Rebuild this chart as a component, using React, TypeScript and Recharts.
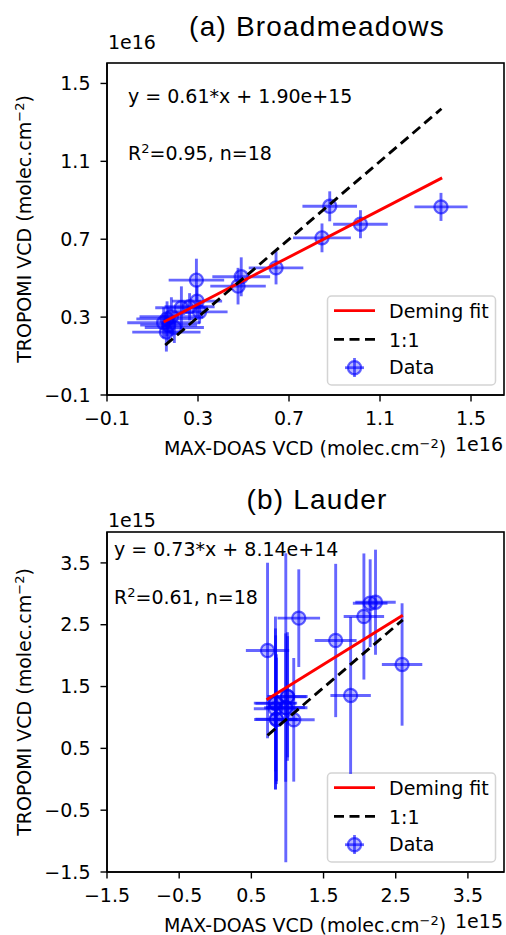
import React from 'react';
import { ComposedChart, Scatter, XAxis, YAxis, ErrorBar, Customized } from 'recharts';

// ---------- (a) Broadmeadows, values in units of 1e16 ----------
const aMaxDoas = [1.368, 0.879, 1.014, 0.845, 0.643, 0.490, 0.476, 0.293, 0.296, 0.307, 0.263, 0.227, 0.183, 0.164, 0.149, 0.171, 0.196, 0.161];
const aTropomi = [0.866, 0.869, 0.777, 0.707, 0.553, 0.507, 0.459, 0.490, 0.382, 0.327, 0.353, 0.348, 0.302, 0.291, 0.271, 0.259, 0.247, 0.223];
const aMaxDoasErr = [0.117, 0.120, 0.120, 0.127, 0.120, 0.127, 0.122, 0.122, 0.110, 0.123, 0.110, 0.115, 0.140, 0.135, 0.160, 0.125, 0.130, 0.150];
const aTropomiErr = [0.072, 0.077, 0.072, 0.074, 0.085, 0.100, 0.094, 0.110, 0.080, 0.060, 0.070, 0.110, 0.100, 0.090, 0.080, 0.090, 0.080, 0.100];
const aFitX = [0.149, 1.373];
const aFitY = [0.275, 1.015];
const aOneX = [0.156, 1.370];
const aOneY = [0.156, 1.370];
const aTicks = [-0.1, 0.3, 0.7, 1.1, 1.5];
const aXDomain = [-0.1, 1.645];
const aYDomain = [-0.1, 1.605];

// ---------- (b) Lauder, values in units of 1e15 ----------
const bMaxDoas = [0.724, 1.157, 1.668, 2.059, 2.146, 2.220, 2.588, 1.875, 1.000, 0.834, 0.977, 0.834, 0.848, 1.087, 0.836, 0.975, 0.846, 1.002];
const bTropomi = [2.083, 2.606, 2.245, 2.633, 2.848, 2.864, 1.857, 1.356, 1.339, 1.232, 1.156, 1.140, 0.968, 0.962, 1.228, 1.160, 0.972, 1.335];
const bMaxDoasErr = [0.30, 0.295, 0.29, 0.28, 0.24, 0.28, 0.28, 0.28, 0.28, 0.30, 0.30, 0.30, 0.31, 0.29, 0.28, 0.27, 0.29, 0.26];
const bTropomiErr = [1.42, 0.79, 1.24, 1.02, 0.71, 0.85, 0.99, 1.27, 1.04, 1.40, 2.50, 1.30, 1.00, 1.00, 1.10, 1.20, 1.05, 0.98];
const bFitX = [0.710, 2.598];
const bFitY = [1.285, 2.655];
const bOneX = [0.724, 2.598];
const bOneY = [0.709, 2.579];
const bTicks = [-1.5, -0.5, 0.5, 1.5, 2.5, 3.5];
const bXDomain = [-1.5, 4.0];
const bYDomain = [-1.5, 4.0];

const FONT = 'DejaVu Sans, sans-serif';
const FS = 19;
const SUP = 13;
const BLUE_LINE = 'rgba(0,0,255,0.6)';
const BLUE_FILL = 'rgba(0,0,255,0.28)';

const fmt = (v: number) => (v < 0 ? '\u2212' + Math.abs(v).toFixed(1) : v.toFixed(1));

const Marker = (props: any) => {
  const { cx, cy } = props;
  if (cx == null || cy == null) return <g />;
  return <circle cx={cx} cy={cy} r={6.6} fill={BLUE_FILL} stroke={BLUE_LINE} strokeWidth={2.2} />;
};
const NoShape = () => <g />;

type PanelProps = {
  height: number;
  top: number;
  plotTop: number;
  plotBottom: number;
  points: any[];
  fit: any[];
  one: any[];
  ticks: number[];
  xDomain: number[];
  yDomain: number[];
  title: string;
  titleY: number;
  expo: string;
  expoY: number;
  eqn: string;
  eqnX: number;
  eqnY: number;
  r2: string;
  r2Y: number;
};

const PLOT_L = 107;
const PLOT_R = 504;

const Overlay = (p: PanelProps) => {
  const midY = (p.plotTop + p.plotBottom) / 2;
  const bt = p.plotBottom - 99;
  const bx = 327.5;
  return (
    <g fontFamily={FONT} fill="#000">
      <rect x={PLOT_L} y={p.plotTop} width={PLOT_R - PLOT_L} height={p.plotBottom - p.plotTop} fill="none" stroke="#000" strokeWidth={1.6} />
      <text x={317} y={p.titleY} textAnchor="middle" fontFamily="Liberation Sans, Arial, sans-serif" fontSize={28} letterSpacing={1.2}>{p.title}</text>
      <text x={108} y={p.expoY} fontSize={FS}>{p.expo}</text>
      <text x={p.eqnX} y={p.eqnY} fontSize={FS}>{p.eqn}</text>
      <text x={p.eqnX} y={p.r2Y} fontSize={FS}>R<tspan dy={-7} fontSize={SUP}>2</tspan><tspan dy={7} fontSize={FS}>{p.r2}</tspan></text>
      <text x={305} y={p.plotBottom + 60} textAnchor="middle" fontSize={FS}>MAX-DOAS VCD (molec.cm<tspan dy={-7} fontSize={SUP}>{'\u2212'}2</tspan><tspan dy={7} fontSize={FS}>)</tspan></text>
      <text x={503} y={p.plotBottom + 56} textAnchor="end" fontSize={FS}>{p.expo}</text>
      <text x={31} y={midY} textAnchor="middle" fontSize={FS} transform={`rotate(-90 31 ${midY})`}>TROPOMI VCD (molec.cm<tspan dy={-7} fontSize={SUP}>{'\u2212'}2</tspan><tspan dy={7} fontSize={FS}>)</tspan></text>
      {/* legend */}
      <rect x={bx} y={bt} width={168} height={89} rx={4} fill="rgba(255,255,255,0.85)" stroke="#d4d4d4" strokeWidth={1.5} />
      <line x1={334} x2={375} y1={bt + 14.7} y2={bt + 14.7} stroke="red" strokeWidth={2.8} />
      <text x={389} y={bt + 22} fontSize={FS}>Deming fit</text>
      <line x1={334} x2={375} y1={bt + 43.3} y2={bt + 43.3} stroke="#000" strokeWidth={2.8} strokeDasharray="10 5.5" />
      <text x={389} y={bt + 50.7} fontSize={FS}>1:1</text>
      <line x1={345} x2={364} y1={bt + 71.7} y2={bt + 71.7} stroke={BLUE_LINE} strokeWidth={2.8} />
      <line x1={354.5} x2={354.5} y1={bt + 62} y2={bt + 81} stroke={BLUE_LINE} strokeWidth={2.8} />
      <circle cx={354.5} cy={bt + 71.7} r={6.6} fill={BLUE_FILL} stroke={BLUE_LINE} strokeWidth={2.2} />
      <text x={389} y={bt + 78} fontSize={FS}>Data</text>
    </g>
  );
};

const Panel = (p: PanelProps) => {
  const tickStyle = { fontSize: FS, fill: '#000', fontFamily: FONT };
  return (
    <div style={{ position: 'absolute', left: 0, top: p.top, width: 506, height: p.height }}>
      <ComposedChart
        width={506}
        height={p.height}
        margin={{ top: p.plotTop - p.top, right: 506 - PLOT_R, left: 0, bottom: 0 }}
      >
        <XAxis
          type="number"
          dataKey="x"
          domain={p.xDomain}
          ticks={p.ticks}
          allowDataOverflow
          height={p.height - (p.plotBottom - p.top)}
          tickFormatter={fmt}
          tick={tickStyle}
          tickSize={6.5}
          tickMargin={10}
          axisLine={{ stroke: '#000', strokeWidth: 1.6 }}
          tickLine={{ stroke: '#000', strokeWidth: 1.4 }}
          interval={0}
        />
        <YAxis
          type="number"
          dataKey="y"
          domain={p.yDomain}
          ticks={p.ticks}
          allowDataOverflow
          width={PLOT_L}
          tickFormatter={fmt}
          tick={tickStyle}
          tickSize={6.5}
          tickMargin={10}
          axisLine={{ stroke: '#000', strokeWidth: 1.6 }}
          tickLine={{ stroke: '#000', strokeWidth: 1.4 }}
          interval={0}
        />
        <Scatter name="Data" data={p.points} shape={<Marker />} isAnimationActive={false}>
          <ErrorBar dataKey="ex" direction="x" width={0} stroke={BLUE_LINE} strokeWidth={2.9} isAnimationActive={false} />
          <ErrorBar dataKey="ey" direction="y" width={0} stroke={BLUE_LINE} strokeWidth={2.9} isAnimationActive={false} />
        </Scatter>
        <Scatter name="Deming fit" data={p.fit} shape={<NoShape />} line={{ stroke: 'red', strokeWidth: 2.9 }} lineType="joint" isAnimationActive={false} />
        <Scatter name="1:1" data={p.one} shape={<NoShape />} line={{ stroke: '#000', strokeWidth: 2.9, strokeDasharray: '10 5.5' }} lineType="joint" isAnimationActive={false} />
        <Customized component={<Overlay {...p} plotTop={p.plotTop - p.top} plotBottom={p.plotBottom - p.top} titleY={p.titleY - p.top} expoY={p.expoY - p.top} eqnY={p.eqnY - p.top} r2Y={p.r2Y - p.top} />} />
      </ComposedChart>
    </div>
  );
};

const mkPoints = (xs: number[], ys: number[], exs: number[], eys: number[]) =>
  xs.map((x, i) => ({ x, y: ys[i], ex: exs[i], ey: eys[i] }));
const mkLine = (xs: number[], ys: number[]) => xs.map((x, i) => ({ x, y: ys[i] }));

export default function App() {
  return (
    <div style={{ position: 'absolute', left: 0, top: 0, width: 506, height: 935, background: '#fff', overflow: 'hidden' }}>
      <Panel
        height={470}
        top={0}
        plotTop={63}
        plotBottom={395}
        points={mkPoints(aMaxDoas, aTropomi, aMaxDoasErr, aTropomiErr)}
        fit={mkLine(aFitX, aFitY)}
        one={mkLine(aOneX, aOneY)}
        ticks={aTicks}
        xDomain={aXDomain}
        yDomain={aYDomain}
        title="(a) Broadmeadows"
        titleY={36}
        expo="1e16"
        expoY={49}
        eqn="y = 0.61*x + 1.90e+15"
        eqnX={128}
        eqnY={103}
        r2="=0.95, n=18"
        r2Y={160}
      />
      <Panel
        height={465}
        top={470}
        plotTop={532}
        plotBottom={872}
        points={mkPoints(bMaxDoas, bTropomi, bMaxDoasErr, bTropomiErr)}
        fit={mkLine(bFitX, bFitY)}
        one={mkLine(bOneX, bOneY)}
        ticks={bTicks}
        xDomain={bXDomain}
        yDomain={bYDomain}
        title="(b) Lauder"
        titleY={509}
        expo="1e15"
        expoY={527}
        eqn="y = 0.73*x + 8.14e+14"
        eqnX={114}
        eqnY={556}
        r2="=0.61, n=18"
        r2Y={604}
      />
    </div>
  );
}
